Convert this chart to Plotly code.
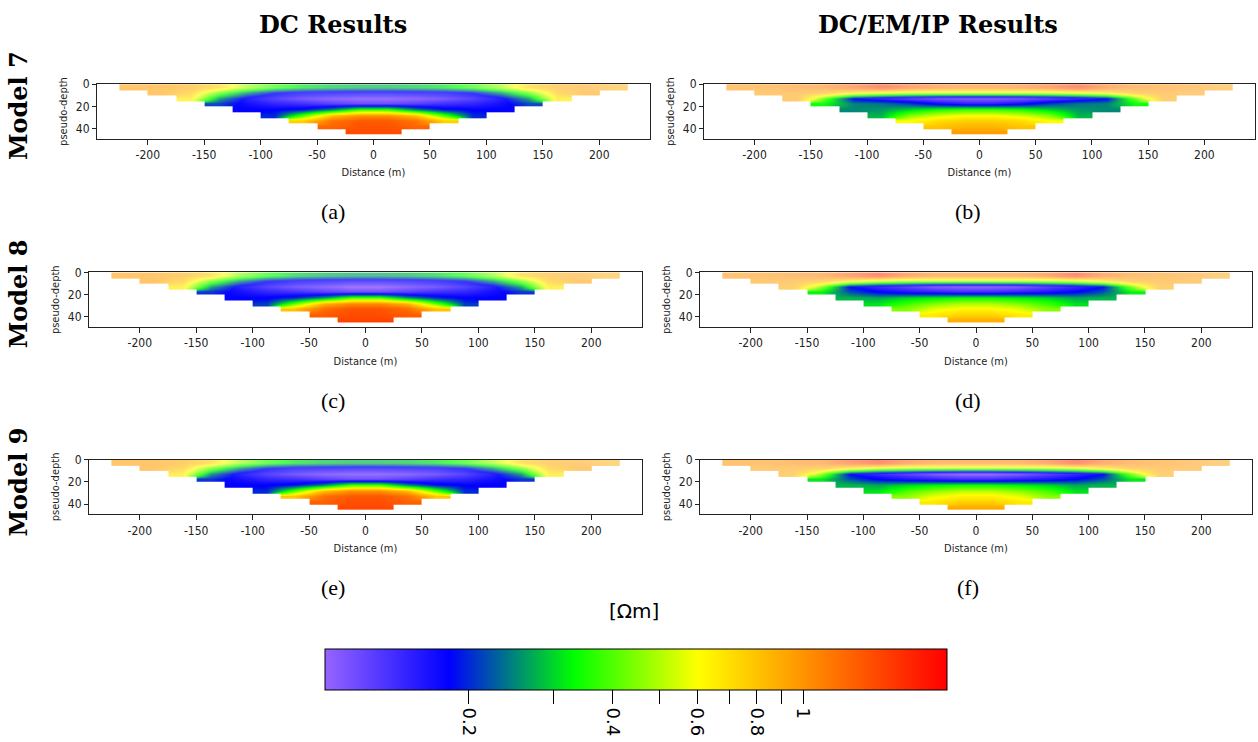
import numpy as np
import plotly.graph_objects as go

W, H = 1258, 742

# ---------------- data ----------------
# cell centres of the pseudo-section grid (m)
x_centers = [-212.5, -187.5, -162.5, -137.5, -112.5, -87.5, -62.5, -37.5, -12.5,
             12.5, 37.5, 62.5, 87.5, 112.5, 137.5, 162.5, 187.5, 212.5]
depth_centers = [2.5, 7.5, 12.5, 17.5, 22.5, 27.5, 32.5, 37.5, 42.5]

# apparent resistivity (Ohm m); each row lists only the measured cells (centred)
model7_dc = [
    [0.95, 0.95, 0.90, 0.75, 0.48, 0.36, 0.31, 0.29, 0.28, 0.28, 0.29, 0.31, 0.36, 0.48, 0.75, 0.90, 0.95, 0.90],
    [0.95, 0.80, 0.42, 0.26, 0.19, 0.17, 0.165, 0.16, 0.16, 0.165, 0.17, 0.19, 0.26, 0.42, 0.80, 0.95],
    [0.66, 0.26, 0.17, 0.14, 0.12, 0.11, 0.105, 0.105, 0.11, 0.12, 0.14, 0.17, 0.26, 0.66],
    [0.21, 0.17, 0.155, 0.145, 0.13, 0.12, 0.12, 0.13, 0.145, 0.155, 0.17, 0.21],
    [0.18, 0.18, 0.19, 0.25, 0.38, 0.38, 0.25, 0.19, 0.18, 0.18],
    [0.20, 0.40, 0.80, 1.00, 1.00, 0.80, 0.40, 0.20],
    [0.75, 1.15, 1.30, 1.30, 1.15, 0.75],
    [1.25, 1.35, 1.35, 1.25],
    [1.40, 1.40],
]
model8_dc = [
    [0.95, 0.95, 0.90, 0.75, 0.46, 0.35, 0.30, 0.28, 0.27, 0.27, 0.28, 0.30, 0.35, 0.46, 0.75, 0.90, 0.95, 0.90],
    [0.95, 0.80, 0.42, 0.26, 0.19, 0.17, 0.16, 0.155, 0.155, 0.16, 0.17, 0.19, 0.26, 0.42, 0.80, 0.95],
    [0.66, 0.26, 0.17, 0.14, 0.12, 0.11, 0.10, 0.10, 0.11, 0.12, 0.14, 0.17, 0.26, 0.66],
    [0.20, 0.17, 0.155, 0.145, 0.13, 0.12, 0.12, 0.13, 0.145, 0.155, 0.17, 0.20],
    [0.18, 0.18, 0.20, 0.26, 0.40, 0.40, 0.26, 0.20, 0.18, 0.18],
    [0.21, 0.42, 0.85, 1.05, 1.05, 0.85, 0.42, 0.21],
    [0.80, 1.20, 1.35, 1.35, 1.20, 0.80],
    [1.30, 1.40, 1.40, 1.30],
    [1.45, 1.45],
]
model9_dc = [
    [0.95, 0.95, 0.90, 0.75, 0.48, 0.36, 0.31, 0.29, 0.28, 0.28, 0.29, 0.31, 0.36, 0.48, 0.75, 0.90, 0.95, 0.90],
    [0.95, 0.80, 0.42, 0.26, 0.19, 0.17, 0.165, 0.16, 0.16, 0.165, 0.17, 0.19, 0.26, 0.42, 0.80, 0.95],
    [0.66, 0.25, 0.17, 0.14, 0.12, 0.11, 0.105, 0.105, 0.11, 0.12, 0.14, 0.17, 0.25, 0.66],
    [0.20, 0.17, 0.155, 0.145, 0.13, 0.12, 0.12, 0.13, 0.145, 0.155, 0.17, 0.20],
    [0.18, 0.18, 0.19, 0.25, 0.39, 0.39, 0.25, 0.19, 0.18, 0.18],
    [0.20, 0.41, 0.82, 1.02, 1.02, 0.82, 0.41, 0.20],
    [0.78, 1.18, 1.32, 1.32, 1.18, 0.78],
    [1.28, 1.38, 1.38, 1.28],
    [1.42, 1.42],
]
model7_joint = [
    [1.00, 1.00, 1.05, 1.10, 1.30, 1.60, 1.30, 1.15, 1.10, 1.10, 1.15, 1.30, 1.60, 1.20, 1.05, 1.00, 1.00, 0.95],
    [0.95, 0.95, 0.90, 0.70, 0.60, 0.55, 0.55, 0.55, 0.55, 0.55, 0.55, 0.60, 0.70, 0.90, 0.95, 0.95],
    [0.95, 0.40, 0.18, 0.15, 0.13, 0.115, 0.11, 0.11, 0.115, 0.13, 0.15, 0.18, 0.40, 0.90],
    [0.33, 0.25, 0.24, 0.21, 0.17, 0.15, 0.15, 0.17, 0.21, 0.24, 0.25, 0.33],
    [0.25, 0.26, 0.30, 0.35, 0.38, 0.38, 0.35, 0.30, 0.26, 0.25],
    [0.28, 0.45, 0.55, 0.60, 0.60, 0.55, 0.45, 0.28],
    [0.60, 0.70, 0.75, 0.75, 0.70, 0.60],
    [0.80, 0.85, 0.85, 0.80],
    [0.95, 0.95],
]
model8_joint = [
    [1.00, 1.00, 1.05, 1.10, 1.30, 1.60, 1.25, 1.10, 1.10, 1.10, 1.10, 1.25, 1.60, 1.20, 1.05, 1.00, 1.00, 0.95],
    [0.95, 0.95, 0.90, 0.70, 0.55, 0.50, 0.50, 0.50, 0.50, 0.50, 0.50, 0.55, 0.70, 0.90, 0.95, 0.95],
    [0.90, 0.45, 0.18, 0.15, 0.13, 0.11, 0.105, 0.105, 0.11, 0.13, 0.15, 0.18, 0.42, 0.90],
    [0.32, 0.22, 0.18, 0.16, 0.15, 0.14, 0.14, 0.15, 0.16, 0.18, 0.22, 0.32],
    [0.28, 0.27, 0.30, 0.32, 0.34, 0.34, 0.32, 0.30, 0.27, 0.28],
    [0.31, 0.38, 0.45, 0.50, 0.50, 0.45, 0.38, 0.31],
    [0.45, 0.56, 0.62, 0.62, 0.56, 0.45],
    [0.66, 0.74, 0.74, 0.66],
    [0.88, 0.88],
]
model9_joint = [
    [1.00, 1.00, 1.05, 1.10, 1.35, 1.60, 1.25, 1.10, 1.10, 1.10, 1.10, 1.25, 1.60, 1.20, 1.05, 1.00, 1.00, 0.95],
    [0.95, 0.95, 0.90, 0.70, 0.55, 0.50, 0.50, 0.50, 0.50, 0.50, 0.50, 0.55, 0.70, 0.90, 0.95, 0.95],
    [0.90, 0.45, 0.18, 0.15, 0.13, 0.11, 0.10, 0.10, 0.11, 0.13, 0.15, 0.18, 0.42, 0.90],
    [0.31, 0.22, 0.18, 0.16, 0.15, 0.14, 0.14, 0.15, 0.16, 0.18, 0.22, 0.31],
    [0.28, 0.27, 0.30, 0.32, 0.34, 0.34, 0.32, 0.30, 0.27, 0.28],
    [0.31, 0.39, 0.46, 0.51, 0.51, 0.46, 0.39, 0.31],
    [0.46, 0.57, 0.63, 0.63, 0.57, 0.46],
    [0.67, 0.75, 0.75, 0.67],
    [0.89, 0.89],
]

# low-coverage fading (0 = opaque colour, 1 = white)
fade_dc = [
    [0.42, 0.42, 0.42, 0.40, 0.38, 0.35, 0.32, 0.32, 0.32, 0.32, 0.32, 0.32, 0.35, 0.38, 0.40, 0.45, 0.48, 0.50],
    [0.42, 0.40, 0.32, 0.25, 0.22, 0.22, 0.22, 0.22, 0.22, 0.22, 0.22, 0.22, 0.25, 0.32, 0.40, 0.45],
    [0.35, 0.15, 0.10, 0.12, 0.12, 0.12, 0.12, 0.12, 0.12, 0.12, 0.12, 0.10, 0.15, 0.35],
    [0.05, 0.02, 0.05, 0.05, 0.05, 0.05, 0.05, 0.05, 0.05, 0.05, 0.02, 0.05],
    [0, 0, 0, 0, 0, 0, 0, 0, 0, 0],
    [0, 0, 0, 0, 0, 0, 0, 0],
    [0, 0, 0, 0, 0, 0],
    [0, 0, 0, 0],
    [0, 0],
]
fade_joint = [
    [0.45, 0.45, 0.45, 0.45, 0.45, 0.45, 0.45, 0.45, 0.45, 0.45, 0.45, 0.45, 0.45, 0.45, 0.45, 0.45, 0.48, 0.50],
    [0.45, 0.45, 0.45, 0.40, 0.35, 0.35, 0.35, 0.35, 0.35, 0.35, 0.35, 0.35, 0.40, 0.45, 0.45, 0.48],
    [0.45, 0.15, 0.05, 0.05, 0.05, 0.05, 0.05, 0.05, 0.05, 0.05, 0.05, 0.05, 0.15, 0.45],
    [0.05, 0, 0, 0, 0, 0, 0, 0, 0, 0, 0, 0.05],
    [0, 0, 0, 0, 0, 0, 0, 0, 0, 0],
    [0, 0, 0, 0, 0, 0, 0, 0],
    [0, 0, 0, 0, 0, 0],
    [0, 0, 0, 0],
    [0, 0],
]

x_tick_values = [-200, -150, -100, -50, 0, 50, 100, 150, 200]
x_tick_labels = ["-200", "-150", "-100", "-50", "0", "50", "100", "150", "200"]
y_tick_values = [0, 20, 40]
cbar_tick_values = [0.2, 0.3, 0.4, 0.5, 0.6, 0.7, 0.8, 0.9, 1.0]
cbar_tick_labels = ["0.2", "", "0.4", "", "0.6", "", "0.8", "", "1"]
rho_min, rho_max = 0.1, 2.0

column_titles = ["DC Results", "DC/EM/IP Results"]
row_titles = ["Model 7", "Model 8", "Model 9"]
captions = ["(a)", "(b)", "(c)", "(d)", "(e)", "(f)"]


def to_grid(rows):
    n = len(x_centers)
    g = np.full((len(rows), n), np.nan)
    for k, r in enumerate(rows):
        pad = (n - len(r)) // 2
        g[k, pad:pad + len(r)] = r
    return g


# ---------------- layout geometry (pixels) ----------------
panels = [
    # data, fade, x0, x1, y0, y1
    (model7_dc, fade_dc, 97, 650, 78, 133),
    (model7_joint, fade_joint, 704, 1255, 78, 133),
    (model8_dc, fade_dc, 89, 642, 268, 323),
    (model8_joint, fade_joint, 700, 1252, 268, 323),
    (model9_dc, fade_dc, 89, 642, 457, 512),
    (model9_joint, fade_joint, 700, 1252, 457, 512),
]

colorscale = [
    [0.0, "rgb(150,100,255)"],
    [0.2, "rgb(0,0,255)"],
    [0.4, "rgb(0,255,0)"],
    [0.6, "rgb(255,255,0)"],
    [1.0, "rgb(255,0,0)"],
]
white_scale = [[0.0, "rgba(255,255,255,0)"], [1.0, "rgba(255,255,255,1)"]]

tick_font = dict(family="DejaVu Sans Condensed, DejaVu Sans", size=12, color="#222")
title_font = dict(family="DejaVu Sans Condensed, DejaVu Sans", size=11, color="#222")

fig = go.Figure()
layout = dict(
    width=W, height=H, margin=dict(l=0, r=0, t=0, b=0),
    paper_bgcolor="white", plot_bgcolor="white", showlegend=False,
)

for i, (data, fade, x0, x1, y0, y1) in enumerate(panels, start=1):
    sx = "" if i == 1 else str(i)
    fig.add_trace(go.Heatmap(
        x=x_centers, y=depth_centers, z=np.log10(to_grid(data)),
        coloraxis="coloraxis", zsmooth="best", hoverinfo="skip",
        xaxis="x" + sx, yaxis="y" + sx,
    ))
    fig.add_trace(go.Heatmap(
        x=x_centers, y=depth_centers, z=to_grid(fade),
        colorscale=white_scale, zmin=0, zmax=1, showscale=False,
        zsmooth="best", hoverinfo="skip",
        xaxis="x" + sx, yaxis="y" + sx,
    ))
    layout["xaxis" + sx] = dict(
        domain=[x0 / W, x1 / W], anchor="y" + sx, range=[-245, 245],
        tickmode="array", tickvals=x_tick_values, ticktext=x_tick_labels,
        ticks="outside", ticklen=5, tickwidth=1, tickcolor="#222",
        showline=True, mirror=True, linecolor="#222", linewidth=1,
        showgrid=False, zeroline=False, tickfont=tick_font,
        title=dict(text="Distance (m)", font=title_font, standoff=7),
    )
    layout["yaxis" + sx] = dict(
        domain=[1 - y1 / H, 1 - y0 / H], anchor="x" + sx, range=[49, 0],
        tickmode="array", tickvals=y_tick_values,
        ticks="outside", ticklen=4, tickwidth=1, tickcolor="#222",
        showline=True, mirror=True, linecolor="#222", linewidth=1,
        showgrid=False, zeroline=False, tickfont=tick_font,
        title=dict(text="pseudo-depth", font=title_font, standoff=6),
    )

layout["coloraxis"] = dict(
    colorscale=colorscale, cmin=np.log10(rho_min), cmax=np.log10(rho_max),
    colorbar=dict(
        orientation="h", x=636 / W, xanchor="center", y=1 - 648 / H, yanchor="top",
        len=622 / W, lenmode="fraction", thickness=41, thicknessmode="pixels",
        outlinecolor="black", outlinewidth=1, xpad=0, ypad=0,
        tickmode="array", tickvals=list(np.log10(cbar_tick_values)), ticktext=cbar_tick_labels,
        ticks="outside", ticklen=14, tickwidth=1, tickcolor="black", tickangle=90,
        tickfont=dict(family="DejaVu Sans", size=18, color="black"),
    ),
)

serif_bold = dict(family="DejaVu Serif", size=24, color="black", weight="bold")
serif = dict(family="Liberation Serif", size=22, color="black")
ann = []
for txt, xp in zip(column_titles, [333, 938]):
    ann.append(dict(text=txt, x=xp / W, y=1 - 18 / H, xref="paper", yref="paper",
                    showarrow=False, font=serif_bold, xanchor="center", yanchor="middle"))
for txt, yp in zip(row_titles, [100, 290, 480]):
    ann.append(dict(text=txt, x=18 / W, y=1 - yp / H, xref="paper", yref="paper",
                    showarrow=False, font=serif_bold, textangle=-90,
                    xanchor="center", yanchor="middle"))
for txt, (xp, yp) in zip(captions, [(333, 206), (968, 206), (333, 397), (968, 397), (333, 586), (968, 586)]):
    ann.append(dict(text=txt, x=xp / W, y=1 - yp / H, xref="paper", yref="paper",
                    showarrow=False, font=serif, xanchor="center", yanchor="middle"))
ann.append(dict(text="[Ωm]", x=634 / W, y=1 - 610 / H, xref="paper", yref="paper",
                showarrow=False, font=dict(family="DejaVu Sans", size=20, color="black"),
                xanchor="center", yanchor="middle"))
layout["annotations"] = ann

fig.update_layout(**layout)
fig.write_html("out.html")
